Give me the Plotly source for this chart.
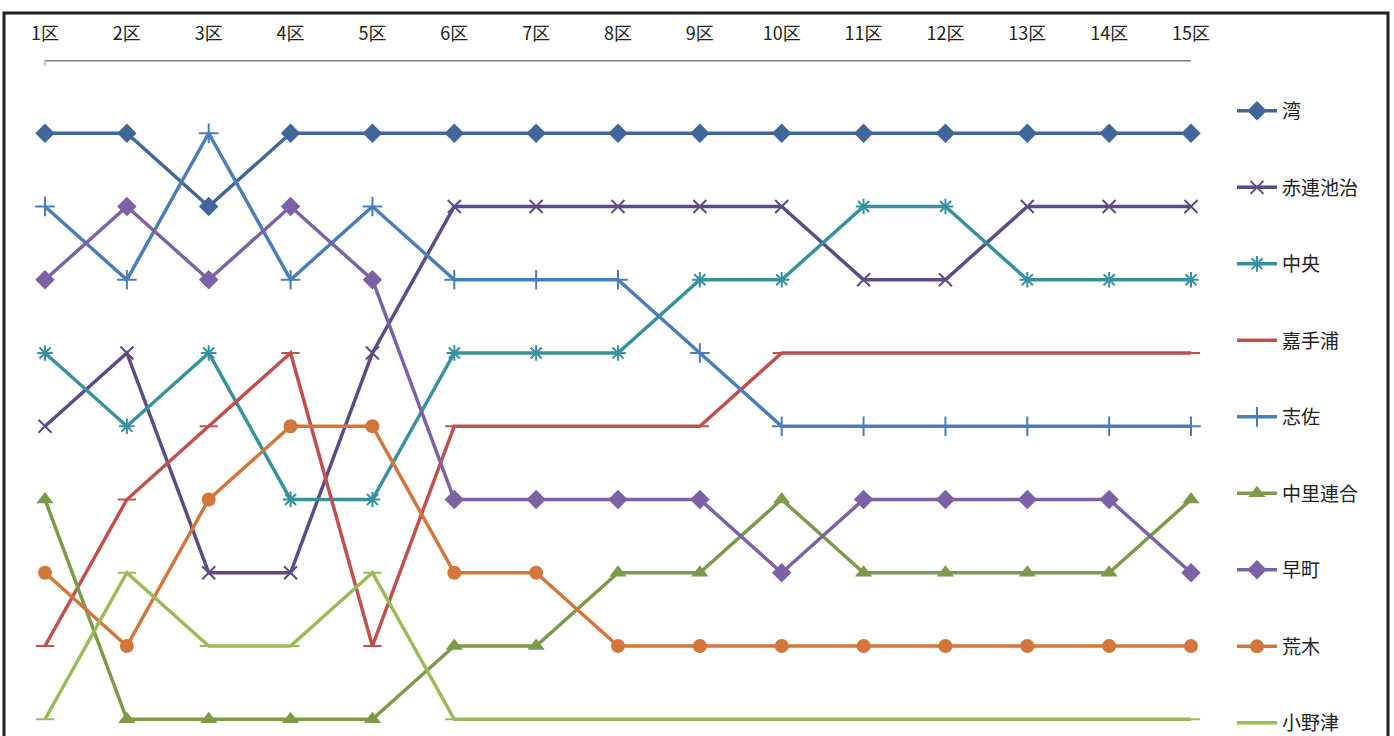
import plotly.graph_objects as go

legs = ["1区", "2区", "3区", "4区", "5区", "6区", "7区", "8区", "9区", "10区", "11区", "12区", "13区", "14区", "15区"]

team_names = ["湾", "赤連池治", "中央", "嘉手浦", "志佐", "中里連合", "早町", "荒木", "小野津"]

rank_wan = [1, 1, 2, 1, 1, 1, 1, 1, 1, 1, 1, 1, 1, 1, 1]
rank_akaren = [5, 4, 7, 7, 4, 2, 2, 2, 2, 2, 3, 3, 2, 2, 2]
rank_chuo = [4, 5, 4, 6, 6, 4, 4, 4, 3, 3, 2, 2, 3, 3, 3]
rank_kadeura = [8, 6, 5, 4, 8, 5, 5, 5, 5, 4, 4, 4, 4, 4, 4]
rank_shisa = [2, 3, 1, 3, 2, 3, 3, 3, 4, 5, 5, 5, 5, 5, 5]
rank_nakazato = [6, 9, 9, 9, 9, 8, 8, 7, 7, 6, 7, 7, 7, 7, 6]
rank_sounmachi = [3, 2, 3, 2, 3, 6, 6, 6, 6, 7, 6, 6, 6, 6, 7]
rank_araki = [7, 8, 6, 5, 5, 7, 7, 8, 8, 8, 8, 8, 8, 8, 8]
rank_onotsu = [9, 7, 8, 8, 7, 9, 9, 9, 9, 9, 9, 9, 9, 9, 9]

series_ranks = [rank_wan, rank_akaren, rank_chuo, rank_kadeura, rank_shisa,
                rank_nakazato, rank_sounmachi, rank_araki, rank_onotsu]

colors = ["#41679A", "#5E4A86", "#37919F", "#C0504D", "#4A7EBB",
          "#7D9A4A", "#7C61A6", "#D3763B", "#9BBB59"]
symbols = ["diamond", "x-thin-open", "asterisk-open", "line-ew-open", "cross-thin-open",
           "triangle-up", "diamond", "circle", "line-ew-open"]
sizes = [15, 13, 13, 13, 14, 15, 15, 14, 13]

W, H = 1394, 820   # page is taller than the 736 px window; bottom is cut like the reference
FONT = "Noto Sans CJK JP"

fig = go.Figure()
x_idx = list(range(len(legs)))
for name, ranks, col, sym, sz in zip(team_names, series_ranks, colors, symbols, sizes):
    open_sym = sym.endswith("open")
    fig.add_trace(go.Scatter(
        x=x_idx, y=ranks, name=name, mode="lines+markers",
        line=dict(color=col, width=3.5),
        marker=dict(symbol=sym, size=sz, color=col,
                    line=dict(color=col, width=2 if open_sym else 0)),
        cliponaxis=False, legendgroup=name,
    ))

# geometry: rank r -> px 60 + 73.25*r ; leg i -> px 45 + 81.86*i
top_m = 60
x_sp = (1191 - 45) / 14
y_sp = 73.25
x_range = [-45 / x_sp, (W - 45) / x_sp]
y_bottom = (H - top_m) / y_sp
ph = H - top_m

fig.update_layout(
    width=W, height=H,
    margin=dict(l=0, r=0, t=top_m, b=0),
    paper_bgcolor="white", plot_bgcolor="white",
    font=dict(family=FONT, size=17, color="#222222"),
    xaxis=dict(range=x_range, side="top", tickvals=x_idx, ticktext=legs,
               showgrid=False, zeroline=False, showline=False,
               ticks="outside", ticklen=12, tickcolor="rgba(0,0,0,0)",
               tickfont=dict(family=FONT, size=18, color="#222222")),
    yaxis=dict(range=[y_bottom, 0], showgrid=False, zeroline=False,
               showline=False, showticklabels=False, ticks=""),
    legend=dict(x=1232 / W, y=1 + (top_m - 92) / ph, xanchor="left", yanchor="top",
                tracegroupgap=48.8, font=dict(family=FONT, size=19, color="#222222"),
                bgcolor="rgba(0,0,0,0)", itemwidth=40),
    showlegend=True,
)

# category axis line from first to last leg, with a small tick at start
fig.add_shape(type="line", xref="x", yref="y", x0=0, x1=len(legs) - 1, y0=0, y1=0,
              line=dict(color="#7F7F7F", width=3))
fig.add_shape(type="line", xref="x", yref="y", x0=0, x1=0, y0=-0.08, y1=0.08,
              line=dict(color="#B8B0D8", width=1.5))

# outer frame
fig.add_shape(type="rect", xref="paper", yref="paper",
              x0=4 / W, x1=1388 / W, y0=-0.05, y1=1 + (top_m - 13) / ph,
              line=dict(color="#222222", width=3), fillcolor="rgba(0,0,0,0)", layer="above")

fig.write_html("out.html", config={"displayModeBar": False},
               post_script="document.body.style.margin='0';document.body.style.overflow='hidden';")
